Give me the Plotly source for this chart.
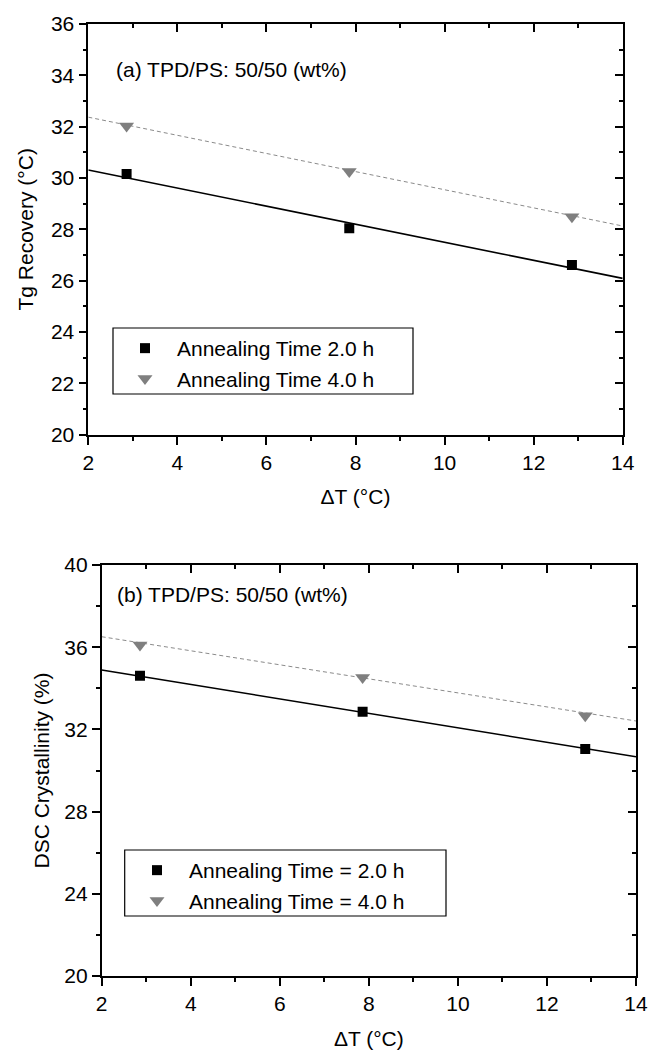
import plotly.graph_objects as go

# ---------------- data ----------------
dT = [2.86, 7.86, 12.86]

# panel (a): Tg recovery (°C)
a_tg_2h = [30.16, 28.04, 26.61]
a_tg_4h = [32.03, 30.25, 28.49]
# panel (b): DSC crystallinity (%)
b_xc_2h = [34.61, 32.86, 31.05]
b_xc_4h = [36.11, 34.53, 32.67]

# linear fit lines (end points)
fit_x = [2, 14]
a_fit_2h = [30.31, 26.09]
a_fit_4h = [32.37, 28.13]
b_fit_2h = [34.89, 30.67]
b_fit_4h = [36.51, 32.41]

x_ticks = [2, 4, 6, 8, 10, 12, 14]
a_y_ticks = [20, 22, 24, 26, 28, 30, 32, 34, 36]
b_y_ticks = [20, 24, 28, 32, 36, 40]

labels_a = ["Annealing Time 2.0 h", "Annealing Time 4.0 h"]
labels_b = ["Annealing Time = 2.0 h", "Annealing Time = 4.0 h"]

# ---------------- styling ----------------
W, H = 649, 1050
FONT = "Liberation Sans, Arial, sans-serif"
FS = 21
GRAY = "#7f7f7f"
DASHGRAY = "#8a8a8a"

# pixel boxes of the two plot areas
A = dict(x0=88.3, x1=622.7, y0=24.0, y1=434.7)
B = dict(x0=101.7, x1=636.0, y0=565.0, y1=976.0)


def xdom(p):
    return [p["x0"] / W, p["x1"] / W]


def ydom(p):
    return [1 - p["y1"] / H, 1 - p["y0"] / H]


fig = go.Figure()

# panel (a)
fig.add_trace(go.Scatter(x=fit_x, y=a_fit_2h, mode="lines", line=dict(color="black", width=1.6),
                         showlegend=False, xaxis="x", yaxis="y", hoverinfo="skip"))
fig.add_trace(go.Scatter(x=fit_x, y=a_fit_4h, mode="lines", line=dict(color=DASHGRAY, width=1, dash="4px,3px"),
                         showlegend=False, xaxis="x", yaxis="y", hoverinfo="skip"))
fig.add_trace(go.Scatter(x=dT, y=a_tg_2h, mode="markers", name=labels_a[0],
                         marker=dict(symbol="square", size=10, color="black"),
                         xaxis="x", yaxis="y", legend="legend"))
fig.add_trace(go.Scatter(x=dT, y=a_tg_4h, mode="markers", name=labels_a[1],
                         marker=dict(symbol="triangle-down", size=13, color=GRAY),
                         xaxis="x", yaxis="y", legend="legend"))
# invisible carrier so the mirrored (top/right) frame axes get drawn
fig.add_trace(go.Scatter(x=fit_x, y=a_fit_2h, mode="lines", line=dict(width=0, color="rgba(0,0,0,0)"),
                         showlegend=False, xaxis="x3", yaxis="y3", hoverinfo="skip"))

# panel (b)
fig.add_trace(go.Scatter(x=fit_x, y=b_fit_2h, mode="lines", line=dict(color="black", width=1.6),
                         showlegend=False, xaxis="x2", yaxis="y2", hoverinfo="skip"))
fig.add_trace(go.Scatter(x=fit_x, y=b_fit_4h, mode="lines", line=dict(color=DASHGRAY, width=1, dash="4px,3px"),
                         showlegend=False, xaxis="x2", yaxis="y2", hoverinfo="skip"))
fig.add_trace(go.Scatter(x=dT, y=b_xc_2h, mode="markers", name=labels_b[0],
                         marker=dict(symbol="square", size=10, color="black"),
                         xaxis="x2", yaxis="y2", legend="legend2"))
fig.add_trace(go.Scatter(x=dT, y=b_xc_4h, mode="markers", name=labels_b[1],
                         marker=dict(symbol="triangle-down", size=13, color=GRAY),
                         xaxis="x2", yaxis="y2", legend="legend2"))
fig.add_trace(go.Scatter(x=fit_x, y=b_fit_2h, mode="lines", line=dict(width=0, color="rgba(0,0,0,0)"),
                         showlegend=False, xaxis="x4", yaxis="y4", hoverinfo="skip"))

tickfont = dict(family=FONT, size=FS, color="black")
LW = 1.6


def main_axis(domain, rng, tickvals, minor_dtick, title, anchor, standoff):
    return dict(domain=domain, range=rng, tickvals=tickvals, ticks="outside", ticklen=8,
                tickwidth=LW, tickcolor="black", showline=True, linecolor="black", linewidth=LW,
                showgrid=False, zeroline=False, tickfont=tickfont, anchor=anchor, automargin=False,
                minor=dict(ticks="outside", ticklen=4, tickwidth=LW, tickcolor="black", dtick=minor_dtick,
                           showgrid=False),
                title=dict(text=title, font=dict(family=FONT, size=FS, color="black"), standoff=standoff))


def mirror_axis(rng, tickvals, minor_dtick, overlaying, side, anchor):
    return dict(range=rng, tickvals=tickvals, ticks="inside", ticklen=8, tickwidth=LW, tickcolor="black",
                showline=True, linecolor="black", linewidth=LW, showgrid=False, zeroline=False,
                showticklabels=False, overlaying=overlaying, side=side, anchor=anchor, automargin=False,
                minor=dict(ticks="inside", ticklen=4, tickwidth=LW, tickcolor="black", dtick=minor_dtick,
                           showgrid=False))


layout = dict(
    template="none",
    width=W, height=H, autosize=False,
    margin=dict(l=0, r=0, t=0, b=0, pad=0),
    paper_bgcolor="white", plot_bgcolor="white",
    font=dict(family=FONT, size=FS, color="black"),
    xaxis=main_axis(xdom(A), [2, 14], x_ticks, 1, "ΔT (°C)", "y", 17),
    yaxis=main_axis(ydom(A), [20, 36], a_y_ticks, 1, "Tg Recovery (°C)", "x", 12),
    xaxis2=main_axis(xdom(B), [2, 14], x_ticks, 1, "ΔT (°C)", "y2", 17),
    yaxis2=main_axis(ydom(B), [20, 40], b_y_ticks, 2, "DSC Crystallinity (%)", "x2", 9),
    xaxis3=mirror_axis([2, 14], x_ticks, 1, "x", "top", "y3"),
    yaxis3=mirror_axis([20, 36], a_y_ticks, 1, "y", "right", "x3"),
    xaxis4=mirror_axis([2, 14], x_ticks, 1, "x2", "top", "y4"),
    yaxis4=mirror_axis([20, 40], b_y_ticks, 2, "y2", "right", "x4"),
    legend=dict(x=113 / W, y=1 - 328 / H, xanchor="left", yanchor="top", bgcolor="rgba(0,0,0,0)",
                borderwidth=0, itemwidth=54, font=dict(family=FONT, size=FS, color="black")),
    legend2=dict(x=125 / W, y=1 - 850 / H, xanchor="left", yanchor="top", bgcolor="rgba(0,0,0,0)",
                 borderwidth=0, itemwidth=54, font=dict(family=FONT, size=FS, color="black")),
    showlegend=True,
)
fig.update_layout(**layout)

# legend frames
fig.add_shape(type="rect", xref="x domain", yref="y domain",
              x0=(113 - A["x0"]) / (A["x1"] - A["x0"]), x1=(413 - A["x0"]) / (A["x1"] - A["x0"]),
              y0=(A["y1"] - 394) / (A["y1"] - A["y0"]), y1=(A["y1"] - 328) / (A["y1"] - A["y0"]),
              line=dict(color="black", width=1.2), layer="above")
fig.add_shape(type="rect", xref="x2 domain", yref="y2 domain",
              x0=(124.7 - B["x0"]) / (B["x1"] - B["x0"]), x1=(446 - B["x0"]) / (B["x1"] - B["x0"]),
              y0=(B["y1"] - 916) / (B["y1"] - B["y0"]), y1=(B["y1"] - 850) / (B["y1"] - B["y0"]),
              line=dict(color="black", width=1.2), layer="above")

# panel labels
fig.add_annotation(text="(a) TPD/PS: 50/50 (wt%)", xref="x domain", yref="y domain",
                   x=(114 - A["x0"]) / (A["x1"] - A["x0"]), y=(A["y1"] - 69) / (A["y1"] - A["y0"]),
                   xanchor="left", yanchor="middle", showarrow=False,
                   font=dict(family=FONT, size=FS, color="black"))
fig.add_annotation(text="(b) TPD/PS: 50/50 (wt%)", xref="x2 domain", yref="y2 domain",
                   x=(115 - B["x0"]) / (B["x1"] - B["x0"]), y=(B["y1"] - 594) / (B["y1"] - B["y0"]),
                   xanchor="left", yanchor="middle", showarrow=False,
                   font=dict(family=FONT, size=FS, color="black"))

fig.write_html("out.html", config={"displayModeBar": False},
               post_script="document.body.style.margin='0';")
